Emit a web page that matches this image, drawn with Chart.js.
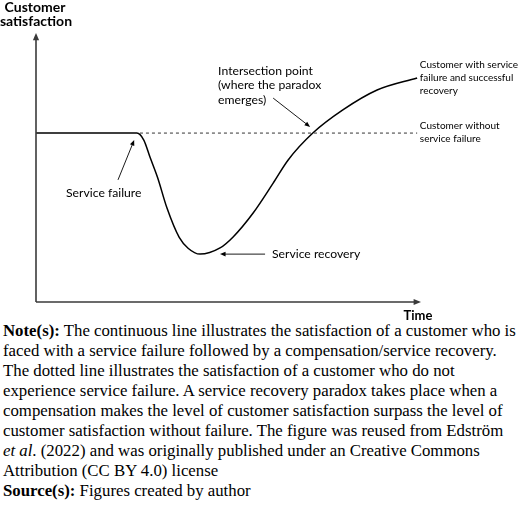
<!DOCTYPE html>
<html>
<head>
<meta charset="utf-8">
<script src="https://cdn.jsdelivr.net/npm/chart.js@4/dist/chart.umd.min.js"></script>
<style>
  html, body { margin: 0; padding: 0; background: #fff; }
  #wrap { width: 520px; height: 321px; position: relative; }
  #note {
    font-family: "Liberation Serif", "Times New Roman", serif;
    font-size: 16.8px;
    line-height: 20px;
    color: #000;
    padding-left: 3px;
    white-space: nowrap;
  }
</style>
</head>
<body>
<div id="wrap"><canvas id="chart"></canvas></div>
<div id="note">
<b>Note(s):</b> The continuous line illustrates the satisfaction of a customer who is<br>
faced with a service failure followed by a compensation/service recovery.<br>
The dotted line illustrates the satisfaction of a customer who do not<br>
experience service failure. A service recovery paradox takes place when a<br>
compensation makes the level of customer satisfaction surpass the level of<br>
customer satisfaction without failure. The figure was reused from Edström<br>
<i>et al</i>. (2022) and was originally published under an Creative Commons<br>
Attribution (CC BY 4.0) license<br>
<b>Source(s):</b> Figures created by author
</div>
<script>
// time (0-100) and satisfaction (0-100)
const timePoints     = [0, 26.2, 28, 29.6, 31.6, 34, 37.2, 39.5, 42.6, 47.8, 51.2, 56.4, 61.6, 65.5, 71.9, 79.7, 88.6, 99];
const withRecovery   = [62.8, 62.8, 60.2, 53.9, 46.2, 35, 24, 20, 17.8, 20.1, 24.2, 33.1, 44.2, 52.8, 62.8, 71.4, 78.8, 83.3];
const baselineTime   = [27, 99];
const baselineLevel  = [62.8, 62.8];

const sans = 'Lato, "Open Sans", sans-serif';

function arrow(ctx, x1, y1, x2, y2, size) {
  const a = Math.atan2(y2 - y1, x2 - x1);
  ctx.beginPath();
  ctx.moveTo(x1, y1);
  ctx.lineTo(x2 - Math.cos(a) * size * 0.8, y2 - Math.sin(a) * size * 0.8);
  ctx.stroke();
  ctx.beginPath();
  ctx.moveTo(x2, y2);
  ctx.lineTo(x2 - size * Math.cos(a - 0.4), y2 - size * Math.sin(a - 0.4));
  ctx.lineTo(x2 - size * Math.cos(a + 0.4), y2 - size * Math.sin(a + 0.4));
  ctx.closePath();
  ctx.fill();
}

const sketch = {
  id: 'sketch',
  afterDraw(chart) {
    const ctx = chart.ctx, xs = chart.scales.x, ys = chart.scales.y;
    const px = v => xs.getPixelForValue(v), py = v => ys.getPixelForValue(v);
    const area = chart.chartArea;
    ctx.save();

    // axes with arrowheads
    ctx.strokeStyle = '#3a3a3a';
    ctx.fillStyle = '#3a3a3a';
    ctx.lineWidth = 1.6;
    arrow(ctx, area.left, area.bottom, area.left, area.top, 8);
    arrow(ctx, area.left, area.bottom, area.right, area.bottom, 8);

    ctx.fillStyle = '#000';
    ctx.textBaseline = 'middle';
    ctx.font = 'bold 14px ' + sans;
    ctx.textAlign = 'center';
    ctx.fillText('Customer', area.left - 1, area.top - 26);
    ctx.fillText('satisfaction', area.left, area.top - 12);
    ctx.font = 'bold 13px ' + sans;
    ctx.fillText('Time', area.right - 3, area.bottom + 14);

    // callouts
    ctx.strokeStyle = '#000';
    ctx.fillStyle = '#000';
    ctx.lineWidth = 0.9;
    ctx.textAlign = 'left';
    ctx.font = '12.2px ' + sans;
    ['Intersection point', '(where the paradox', 'emerges)'].forEach((t, i) =>
      ctx.fillText(t, px(47.3), py(85.9) + i * 14.5));
    arrow(ctx, px(61.6), py(75.8), px(71.2), py(65.1), 6);

    ctx.fillText('Service failure', px(7.8), py(40.5));
    arrow(ctx, px(21.3), py(45.4), px(25.5), py(60.2), 6);

    ctx.fillText('Service recovery', px(61.3), py(17.8));
    arrow(ctx, px(59.5), py(17.8), px(47.8), py(17.8), 6);

    ctx.font = '10px ' + sans;
    ['Customer with service', 'failure and successful', 'recovery'].forEach((t, i) =>
      ctx.fillText(t, px(99.7), py(88.1) + i * 13));
    ['Customer without', 'service failure'].forEach((t, i) =>
      ctx.fillText(t, px(99.7), py(65.4) + i * 13));

    ctx.restore();
  }
};

new Chart(document.getElementById('chart'), {
  type: 'line',
  data: {
    datasets: [{
      label: 'Customer without service failure',
      data: baselineTime.map((t, i) => ({ x: t, y: baselineLevel[i] })),
      borderColor: '#333',
      borderWidth: 1,
      borderDash: [3, 3],
      pointRadius: 0,
      fill: false
    }, {
      label: 'Customer with service failure and successful recovery',
      data: timePoints.map((t, i) => ({ x: t, y: withRecovery[i] })),
      borderColor: '#000',
      borderWidth: 1.5,
      pointRadius: 0,
      cubicInterpolationMode: 'monotone',
      fill: false
    }]
  },
  options: {
    responsive: true,
    maintainAspectRatio: false,
    animation: false,
    layout: { padding: { left: 36, right: 99, top: 33, bottom: 19 } },
    scales: {
      x: { type: 'linear', min: 0, max: 100, display: false },
      y: { min: 0, max: 100, display: false }
    },
    plugins: {
      legend: { display: false },
      tooltip: { enabled: false }
    }
  },
  plugins: [sketch]
});
</script>
</body>
</html>
